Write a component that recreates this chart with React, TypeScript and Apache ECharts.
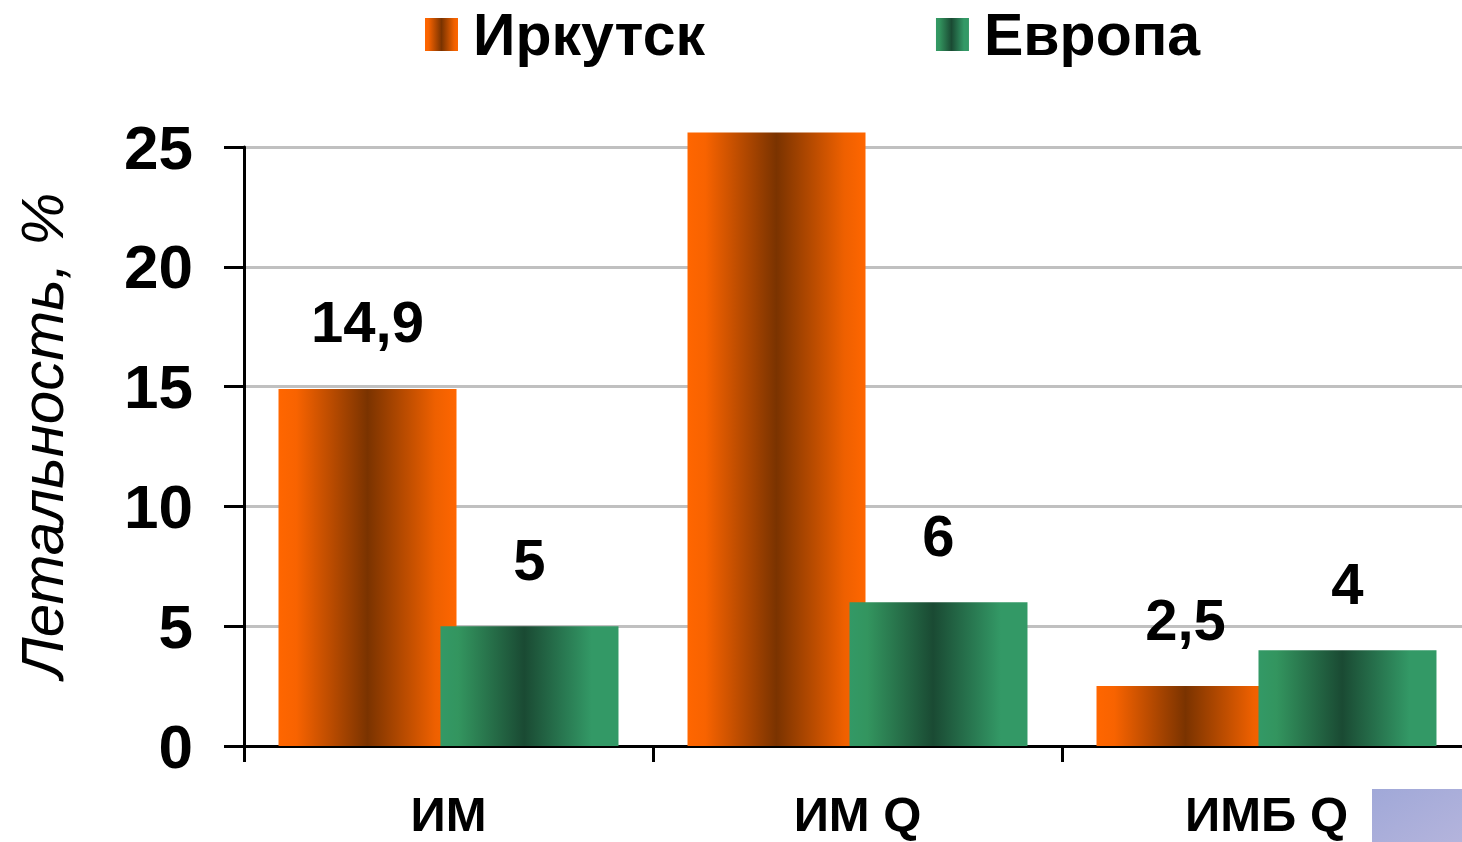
import React, { useEffect, useRef } from "react";
import * as echarts from "echarts";

const categories = ["ИМ", "ИМ Q", "ИМБ Q"];
const irkutskValues = [14.9, 25.6, 2.5];
const europeValues = [5, 6, 4];
const irkutskLabels = ["14,9", "", "2,5"];
const europeLabels = ["5", "6", "4"];
const seriesNames = ["Иркутск", "Европа"];
const yAxisName = "Летальность, %";

const FONT = "'Liberation Sans', Arial, sans-serif";

export default function App() {
  const ref = useRef<HTMLDivElement>(null);
  useEffect(() => {
    if (!ref.current) return;
    const chart = echarts.init(ref.current, undefined, { renderer: "svg" });
    const orange = new echarts.graphic.LinearGradient(0, 0, 1, 0, [
      { offset: 0, color: "#FF6600" },
      { offset: 0.1, color: "#F86300" },
      { offset: 0.5, color: "#7A3300" },
      { offset: 0.88, color: "#EE6000" },
      { offset: 1, color: "#FF6600" },
    ]);
    const green = new echarts.graphic.LinearGradient(0, 0, 1, 0, [
      { offset: 0, color: "#339966" },
      { offset: 0.1, color: "#33955F" },
      { offset: 0.47, color: "#1A4A33" },
      { offset: 0.85, color: "#339966" },
      { offset: 1, color: "#339966" },
    ]);
    const labelStyle = {
      show: true,
      position: "top",
      distance: 38,
      fontFamily: FONT,
      fontWeight: "bold",
      fontSize: 58,
      color: "#000",
    };
    chart.setOption({
      animation: false,
      textStyle: { fontFamily: FONT },
      legend: {
        left: 420,
        top: 0,
        itemWidth: 33,
        itemHeight: 33,
        itemGap: 231,
        icon: "rect",
        textStyle: {
          fontFamily: FONT,
          fontWeight: "bold",
          fontSize: 59,
          color: "#000",
          padding: [0, 0, 0, 10],
        },
        data: seriesNames,
      },
      grid: {
        left: 244,
        right: -9,
        top: 147,
        bottom: 96,
        containLabel: false,
        outerBoundsMode: "none",
      },
      xAxis: {
        type: "category",
        data: categories,
        axisLine: { lineStyle: { color: "#000", width: 3 } },
        axisTick: { show: true, length: 16, lineStyle: { color: "#000", width: 3 } },
        axisLabel: {
          margin: 46,
          fontFamily: FONT,
          fontWeight: "bold",
          fontSize: 49,
          lineHeight: 44,
          color: "#000",
        },
      },
      yAxis: {
        type: "value",
        min: 0,
        max: 25,
        interval: 5,
        name: yAxisName,
        nameLocation: "middle",
        nameGap: 172,
        nameTextStyle: {
          fontFamily: FONT,
          fontStyle: "italic",
          fontSize: 60,
          lineHeight: 60,
          color: "#000",
          padding: [0, 0, 0, 22],
        },
        axisLine: { show: true, lineStyle: { color: "#000", width: 3 } },
        axisTick: { show: true, length: 20, lineStyle: { color: "#000", width: 3 } },
        axisLabel: {
          margin: 51,
          fontFamily: FONT,
          fontWeight: "bold",
          fontSize: 62,
          color: "#000",
        },
        splitLine: { lineStyle: { color: "#C0C0C0", width: 3 } },
      },
      series: [
        {
          name: seriesNames[0],
          type: "bar",
          clip: false,
          barWidth: 178,
          barGap: "-9%",
          itemStyle: { color: orange },
          label: { ...labelStyle, formatter: (p: any) => irkutskLabels[p.dataIndex] },
          data: irkutskValues,
        },
        {
          name: seriesNames[1],
          type: "bar",
          clip: false,
          barWidth: 178,
          barGap: "-9%",
          itemStyle: { color: green },
          label: { ...labelStyle, formatter: (p: any) => europeLabels[p.dataIndex] },
          data: europeValues,
        },
      ],
      graphic: [
        {
          type: "rect",
          right: 0,
          bottom: 0,
          shape: { width: 90, height: 53 },
          style: {
            fill: new echarts.graphic.LinearGradient(0, 0, 1, 1, [
              { offset: 0, color: "#A0A8D8" },
              { offset: 1, color: "#B4B4DC" },
            ]),
          },
        },
      ],
    });
    return () => chart.dispose();
  }, []);
  return <div ref={ref} style={{ width: 1462, height: 842, position: "absolute", left: 0, top: 0 }} />;
}
